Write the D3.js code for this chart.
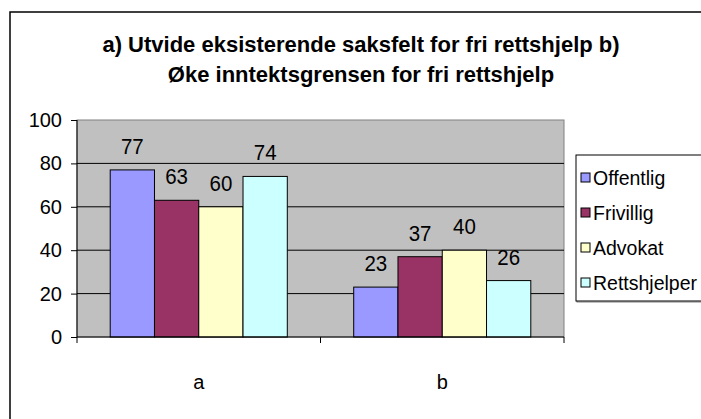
<!DOCTYPE html>
<html>
<head>
<meta charset="utf-8">
<script src="https://cdn.jsdelivr.net/npm/d3@7"></script>
<style>
  html, body { margin: 0; padding: 0; background: #fff; }
  svg { display: block; font-family: "Liberation Sans", Arial, sans-serif; }
</style>
</head>
<body>
<svg id="chart" width="701" height="419"></svg>
<script>
// Survey shares per question (a, b) and respondent group
const categories = ["a", "b"];
const seriesNames = ["Offentlig", "Frivillig", "Advokat", "Rettshjelper"];
const seriesColors = ["#9999FF", "#993366", "#FFFFCC", "#CCFFFF"];
const offentlig = [77, 23];
const frivillig = [63, 37];
const advokat = [60, 40];
const rettshjelper = [74, 26];
const seriesValues = [offentlig, frivillig, advokat, rettshjelper];
const yTicks = [0, 20, 40, 60, 80, 100];
const titleLines = ["a) Utvide eksisterende saksfelt for fri rettshjelp b)", "Øke inntektsgrensen for fri rettshjelp"];

const svg = d3.select("#chart");

// Outer chart frame
svg.append("rect")
  .attr("x", 10).attr("y", 12).attr("width", 760).attr("height", 480)
  .attr("fill", "#fff").attr("stroke", "#000").attr("stroke-width", 1.5);

// Title
svg.append("g").selectAll("text").data(titleLines).join("text")
  .attr("x", 361).attr("y", (d, i) => 52 + i * 30)
  .attr("text-anchor", "middle")
  .attr("font-weight", "bold").attr("font-size", 22)
  .text(d => d);

const plot = { left: 77, right: 564, top: 120, bottom: 337 };

const x0 = d3.scaleBand().domain(categories).range([plot.left, plot.right]).paddingInner(0).paddingOuter(0);
// Gap between groups is 1.5 bar widths, split evenly on both sides
const x1 = d3.scaleBand().domain(seriesNames)
  .range([0, x0.bandwidth()]).paddingInner(0).paddingOuter(0.75);
const y = d3.scaleLinear().domain([0, 100]).range([plot.bottom, plot.top]);

// Plot area background
svg.append("rect")
  .attr("x", plot.left).attr("y", plot.top)
  .attr("width", plot.right - plot.left).attr("height", plot.bottom - plot.top)
  .attr("fill", "#C0C0C0").attr("stroke", "#808080").attr("stroke-width", 1);

// Horizontal gridlines
svg.append("g").selectAll("line").data(yTicks.filter(t => t > 0 && t < 100)).join("line")
  .attr("x1", plot.left).attr("x2", plot.right)
  .attr("y1", d => y(d)).attr("y2", d => y(d))
  .attr("stroke", "#000").attr("stroke-width", 1);

// Bars with value labels
const groups = svg.append("g").selectAll("g").data(categories).join("g")
  .attr("transform", d => `translate(${x0(d)},0)`);

groups.each(function(cat, ci) {
  const g = d3.select(this);
  seriesNames.forEach((name, si) => {
    const v = seriesValues[si][ci];
    g.append("rect")
      .attr("x", x1(name)).attr("y", y(v))
      .attr("width", x1.bandwidth()).attr("height", y(0) - y(v))
      .attr("fill", seriesColors[si]).attr("stroke", "#000").attr("stroke-width", 1);
    g.append("text")
      .attr("transform", `translate(${x1(name) + x1.bandwidth() / 2},${y(v) - 16}) scale(1,1.1)`)
      .attr("text-anchor", "middle").attr("font-size", 20.5)
      .text(v);
  });
});

// Y axis
const yAxis = d3.axisLeft(y).tickValues(yTicks).tickSize(6).tickPadding(9);
const yg = svg.append("g").attr("transform", `translate(${plot.left},0)`).call(yAxis);
yg.select(".domain").attr("stroke", "#000").attr("d", `M-0,${plot.top}V${plot.bottom}`);
yg.selectAll(".tick line").attr("stroke", "#000");
yg.selectAll(".tick text").attr("font-size", 20).attr("font-family", "Liberation Sans, Arial, sans-serif").attr("fill", "#000");

// X axis with ticks on category boundaries
const xg = svg.append("g").attr("transform", `translate(0,${plot.bottom})`);
xg.append("line").attr("x1", plot.left).attr("x2", plot.right).attr("stroke", "#000");
const boundaries = categories.map(c => x0(c)).concat([x0(categories[categories.length - 1]) + x0.bandwidth()]);
xg.selectAll("line.tick").data(boundaries).join("line").attr("class", "tick")
  .attr("x1", d => d).attr("x2", d => d).attr("y1", 0).attr("y2", 6).attr("stroke", "#000");
xg.selectAll("text").data(categories).join("text")
  .attr("x", d => x0(d) + x0.bandwidth() / 2).attr("y", 52)
  .attr("text-anchor", "middle").attr("font-size", 20)
  .text(d => d);

// Legend
const legend = svg.append("g");
legend.append("rect")
  .attr("x", 577).attr("y", 156).attr("width", 140).attr("height", 146)
  .attr("fill", "none").attr("stroke", "#808080").attr("stroke-width", 1);
legend.append("rect")
  .attr("x", 576).attr("y", 155).attr("width", 140).attr("height", 146)
  .attr("fill", "#fff").attr("stroke", "#000").attr("stroke-width", 1);
const items = legend.selectAll("g").data(seriesNames).join("g")
  .attr("transform", (d, i) => `translate(581,${178 + i * 35})`);
items.append("rect")
  .attr("x", 0).attr("y", -5).attr("width", 9).attr("height", 9)
  .attr("fill", (d, i) => seriesColors[i]).attr("stroke", "#000").attr("stroke-width", 1);
items.append("text")
  .attr("x", 12).attr("y", 7).attr("font-size", 19.5)
  .text(d => d);
</script>
</body>
</html>
